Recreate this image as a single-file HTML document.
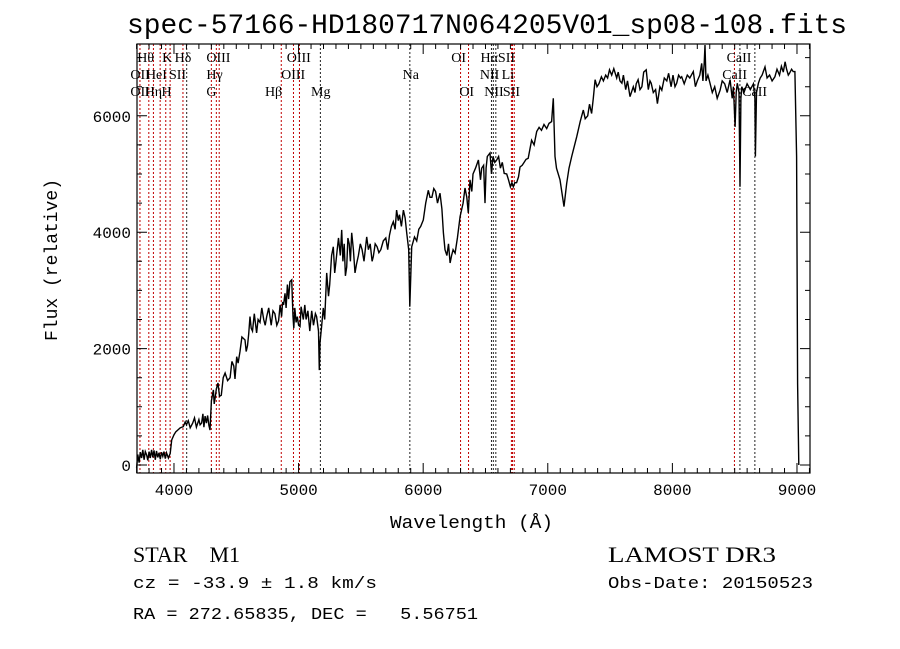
<!DOCTYPE html>
<html><head><meta charset="utf-8"><style>
html,body{margin:0;padding:0;background:#fff;}
svg{display:block;}
</style></head><body>
<svg id="chart" width="900" height="649" xmlns="http://www.w3.org/2000/svg">
<rect width="900" height="649" fill="#fff"/>
<text x="127" y="33" font-family="Liberation Mono, monospace" font-size="27.5" textLength="720" lengthAdjust="spacingAndGlyphs">spec-57166-HD180717N064205V01_sp08-108.fits</text>
<g id="lines"></g>
<g id="labels" font-family="Liberation Serif, serif" font-size="14"></g>
<path id="spec" fill="none" stroke="#000" stroke-width="1.4" stroke-linejoin="miter"/>
<g id="axes"></g>
<text x="390" y="528" font-family="Liberation Mono, monospace" font-size="18" textLength="163" lengthAdjust="spacingAndGlyphs">Wavelength (Å)</text>
<text transform="translate(57,260) rotate(-90)" font-family="Liberation Mono, monospace" font-size="18" text-anchor="middle">Flux (relative)</text>
<text x="133" y="562" font-family="Liberation Serif, serif" font-size="22" xml:space="preserve">STAR    M1</text>
<text x="608" y="562" font-family="Liberation Serif, serif" font-size="22" textLength="168" lengthAdjust="spacingAndGlyphs">LAMOST DR3</text>
<text x="133" y="588" font-family="Liberation Mono, monospace" font-size="17" textLength="244" lengthAdjust="spacingAndGlyphs" xml:space="preserve">cz = -33.9 ± 1.8 km/s</text>
<text x="608" y="588" font-family="Liberation Mono, monospace" font-size="17" textLength="205" lengthAdjust="spacingAndGlyphs">Obs-Date: 20150523</text>
<text x="133" y="619" font-family="Liberation Mono, monospace" font-size="17" textLength="345" lengthAdjust="spacingAndGlyphs" xml:space="preserve">RA = 272.65835, DEC =   5.56751</text>
</svg>
<script>
const wave = [3700,3710,3720,3730,3740,3750,3760,3770,3781,3790,3800,3810,3820,3830,3840,3850,3860,3870,3880,3890,3900,3910,3920,3930,3940,3955,3970,3982,4000,4015,4030,4050,4075,4090,4100,4115,4130,4150,4165,4180,4200,4210,4222,4232,4240,4250,4260,4270,4280,4289,4300,4310,4316,4323,4330,4340,4353,4365,4380,4395,4410,4430,4450,4465,4480,4490,4503,4515,4530,4545,4570,4580,4590,4600,4610,4620,4630,4645,4663,4675,4690,4705,4720,4732,4744,4760,4780,4795,4810,4825,4840,4852,4864,4872,4880,4891,4900,4910,4920,4930,4945,4955,4962,4970,4980,4990,5000,5011,5020,5038,5050,5060,5075,5090,5105,5120,5135,5145,5160,5166,5172,5185,5198,5210,5226,5240,5250,5265,5279,5290,5300,5310,5320,5335,5346,5356,5366,5376,5386,5396,5406,5416,5426,5440,5453,5465,5480,5495,5510,5525,5547,5560,5575,5590,5600,5615,5630,5645,5660,5680,5700,5715,5730,5745,5760,5775,5787,5800,5810,5825,5841,5855,5868,5884,5893,5908,5930,5948,5965,5980,6001,6020,6041,6055,6070,6085,6100,6115,6135,6150,6162,6175,6190,6203,6216,6228,6240,6256,6275,6296,6310,6320,6336,6350,6362,6376,6390,
6400,6420,6443,6460,6470,6485,6496,6505,6515,6536,6548,6560,6575,6590,6605,6620,6635,6650,6670,6685,6700,6712,
6723,6735,6750,6765,6777,6795,6810,6825,6843,6870,6890,6911,6930,6950,6970,6991,7010,7031,7044,7058,
7070,7098,7130,7152,7170,7192,7210,7232,7260,7285,7300,7320,7335,7352,7365,7380,7395,7410,7430,7446,7465,7480,7495,7513,7530,7553,7565,7580,7595,7607,7625,7640,7660,7686,7700,7710,7725,7740,7755,7770,7790,7807,7820,7830,7847,7865,7880,7900,7915,7935,7955,7970,7990,8005,8021,8035,8050,8065,8075,8095,8120,8140,8168,8185,8200,8220,8235,8245,8255,8262,8270,8285,8302,8320,8340,8360,8383,8400,8420,8440,8463,8480,8490,8503,8512,8521,8535,8543,8550,8557,8575,8600,8625,8650,8662,8666,8675,8690,8705,8720,8743,8760,8780,8800,8823,8840,8860,8875,8890,8905,8917,8930,8940,8957,8970,8983,8997,9005,9015];
const flux = [-50,180,40,220,120,260,90,230,170,80,230,120,260,130,250,90,240,130,210,100,220,150,230,110,210,120,200,430,520,570,600,640,660,740,690,760,640,720,810,650,780,690,720,880,650,840,720,850,680,600,1100,1220,1290,1050,1150,1300,1410,1180,1200,1500,1580,1450,1500,1780,1700,1480,1860,1750,1950,2200,2150,1950,2050,2250,2550,2350,2300,2600,2270,2500,2450,2700,2500,2400,2550,2700,2400,2650,2600,2400,2480,2750,2550,2800,2750,2950,2700,3100,2850,3150,3180,2550,2350,2700,2450,2550,2400,2380,2720,2500,2750,2500,2650,2300,2650,2400,2600,2550,2300,1630,2100,2380,2700,2500,3300,2900,3100,3600,3750,3300,3500,3700,3900,3600,4040,3500,3800,3250,3400,3900,3800,3500,3990,3700,3300,3450,3600,3800,3700,3500,3920,3700,3800,3500,3580,3800,3750,3650,3700,3850,3900,3700,3950,4100,4180,4050,4380,4200,4300,4100,4380,4250,3990,3700,2720,3750,3920,3850,4050,4100,4210,4500,4720,4600,4600,4750,4700,4500,4670,4400,3990,3700,3600,3800,3470,3600,3700,3640,3900,4270,4400,4500,4760,4600,4330,4900,4700,
5000,5100,5240,4900,5100,5150,4500,5100,5300,5360,5000,5300,5200,5240,5300,5100,5200,5010,5000,4900,4780,4850,
4780,4850,4850,4950,5120,5150,5200,5250,5270,5580,5500,5730,5800,5750,5850,5780,5870,5900,6300,5300,
5100,4900,4440,4840,5100,5300,5450,5640,5900,6100,5950,6000,6200,6040,6300,6620,6500,6550,6670,6600,6700,6650,6790,6700,6810,6650,6750,6600,6560,6700,6450,6600,6330,6500,6400,6550,6620,6450,6500,6750,6790,6450,6600,6560,6400,6450,6210,6500,6440,6650,6600,6730,6500,6700,6500,6560,6700,6650,6670,6550,6700,6650,6760,6500,6600,6700,6900,6600,6900,7216,6600,6700,6560,6400,6500,6300,6440,6600,6550,6400,6620,6300,6500,5810,6400,6560,6400,4780,6300,6500,6400,6550,6450,6550,6300,5300,6400,6560,6650,6700,6840,6650,6700,6600,6670,6800,6700,6850,6750,6930,6800,6700,6730,6800,6760,6760,5300,1400,0];
const lineWaves = [3727,3798,3835,3889,3934,3969,4072,4102,4300,4340,4363,4861,4959,5007,5175,5893,6300,6364,6548,6563,6583,6708,6717,6731,8498,8542,8662];
const lineColors = ['r','r','r','r','r','r','r','k','r','r','r','r','r','r','k','k','r','r','k','k','k','r','r','r','r','k','k'];
const labelText = ['Hθ','K','Hδ','OIII','OIII','OI','HαSII','CaII','OII','HeI','SII','Hγ','OIII','Na','NII','Li','CaII','OII','Hη','H','G','Hβ','Mg','OI','NII','SII','CaII'];
const labelWave = [3705,3905,4005,4260,4905,6225,6460,8435,3650,3775,3960,4260,4860,5835,6455,6630,8400,3650,3765,3900,4260,4730,5100,6290,6490,6640,8560];
const labelRow = [0,0,0,0,0,0,0,0,1,1,1,1,1,1,1,1,1,2,2,2,2,2,2,2,2,2,2];
const xTicks = [4000,5000,6000,7000,8000,9000];
const yTicks = [0,2000,4000,6000];

const L=137,R=810,T=44,B=473;
const X=w=>136.6+(w-3700)*0.1246;
const Y=f=>465-f*0.0582;
const NS='http://www.w3.org/2000/svg';
function mk(tag,attrs,parent){const e=document.createElementNS(NS,tag);for(const k in attrs)e.setAttribute(k,attrs[k]);parent.appendChild(e);return e;}

const lg=document.getElementById('lines');
lineWaves.forEach((w,i)=>{
  const l=mk('line',{x1:X(w),x2:X(w),y1:T,y2:B,stroke:lineColors[i]==='r'?'#c00000':'#222','stroke-width':1,'stroke-dasharray':'2,2'},lg);
  
  
});
const lb=document.getElementById('labels');
labelText.forEach((t,i)=>{
  const e=mk('text',{x:X(labelWave[i]),y:62+labelRow[i]*17},lb);
  e.textContent=t;
  
  
});
let d='';
const n=Math.min(wave.length,flux.length);
for(let i=0;i<n;i++){d+=(i?'L':'M')+X(wave[i]).toFixed(1)+','+Math.max(T,Y(flux[i])).toFixed(1);}
document.getElementById('spec').setAttribute('d',d);

const ax=document.getElementById('axes');
const fr=mk('rect',{x:L,y:T,width:R-L,height:B-T,fill:'none',stroke:'#000','stroke-width':1.2},ax);


let tp='';
for(let w=3700;w<=9100;w+=100){const x=X(w);const len=(w%1000===0)?10:5;tp+=`M${x},${B}v${-len}M${x},${T}v${len}`;}
for(let f=0;f<=7000;f+=500){const y=Y(f);const len=(f%2000===0)?10:5;tp+=`M${L},${y}h${len}M${R},${y}h${-len}`;}
mk('path',{d:tp,stroke:'#000','stroke-width':1,fill:'none'},ax);
xTicks.forEach(v=>{const e=mk('text',{x:X(v),y:B+22,'text-anchor':'middle','font-family':'Liberation Mono, monospace','font-size':16},ax);e.textContent=v;
  
  });
yTicks.forEach(v=>{const e=mk('text',{x:L-6,y:Y(v)+6,'text-anchor':'end','font-family':'Liberation Mono, monospace','font-size':16},ax);e.textContent=v;
  
  });
</script>
</body></html>
